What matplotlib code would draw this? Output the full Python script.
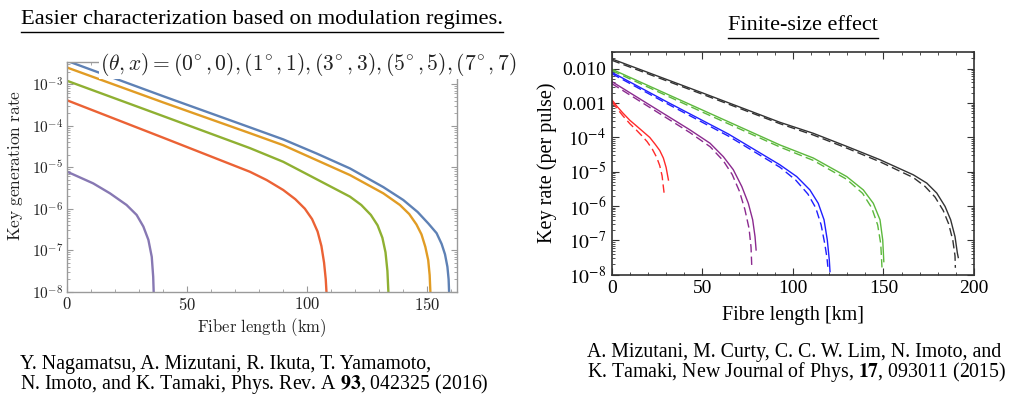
import numpy as np
import matplotlib
matplotlib.use("Agg")
import matplotlib.pyplot as plt
from matplotlib.ticker import FixedLocator, MultipleLocator, LogLocator, NullFormatter, FuncFormatter
from matplotlib.lines import Line2D

plt.rcParams["font.family"] = ["Liberation Serif", "DejaVu Serif"]
plt.rcParams["mathtext.fontset"] = "cm"

# ---- left panel data (Nagamatsu et al.), km and log10(rate) ----
left_blue_km = [0, 40, 76.1, 90, 103.9, 117.8, 131.7, 140, 146, 150.5, 153.9, 156, 157.4, 158.4, 158.9, 159.1]
left_blue_log = [-2.44, -3.29, -4.04, -4.33, -4.67, -5.03, -5.48, -5.79, -6.08, -6.36, -6.59, -6.85, -7.1, -7.4, -7.7, -8.0]
left_orange_km = [0, 40, 76.1, 90, 103.9, 117.8, 131.7, 138.6, 142.5, 145.5, 147.6, 149.2, 150.4, 151.0, 151.3]
left_orange_log = [-2.60, -3.44, -4.18, -4.47, -4.83, -5.19, -5.63, -5.91, -6.13, -6.38, -6.62, -6.92, -7.24, -7.6, -8.0]
left_green_km = [0, 40, 76.1, 90, 103.9, 117.8, 122.5, 126.5, 129.3, 131.3, 132.6, 133.4, 133.8]
left_green_log = [-2.92, -3.77, -4.54, -4.87, -5.29, -5.71, -5.91, -6.15, -6.4, -6.7, -7.05, -7.5, -8.0]
left_red_km = [0, 40, 76.1, 83.1, 90, 95, 99, 102, 104.3, 105.9, 107.0, 107.7, 108.0]
left_red_log = [-3.39, -4.29, -5.11, -5.31, -5.55, -5.77, -6.0, -6.25, -6.55, -6.9, -7.3, -7.7, -8.0]
left_purple_km = [0, 10.8, 17.8, 24.7, 28.9, 31.7, 33.8, 35.2, 35.8, 36.0]
left_purple_log = [-5.11, -5.39, -5.63, -5.91, -6.15, -6.43, -6.75, -7.16, -7.64, -8.0]
left_legend = r"$(\theta, x) = (0^{\!\circ}, 0), (1^{\!\circ}, 1), (3^{\!\circ}, 3), (5^{\!\circ}, 5), (7^{\!\circ}, 7)$"

# ---- right panel data (Mizutani et al.), solid and dashed ----
black_km = [0, 50, 92.9, 111.3, 129.7, 148.1, 157.3, 166.5, 173.9, 179.4, 184.0, 187.1, 189.5, 190.8, 191.3]
black_log = [-1.71, -2.70, -3.56, -3.88, -4.26, -4.65, -4.87, -5.09, -5.33, -5.62, -6.01, -6.40, -6.89, -7.37, -7.5]
black_d_km = [0, 50, 92.9, 111.3, 129.7, 148.1, 157.3, 166.5, 173, 178.5, 183, 186, 188.3, 189.5, 189.7]
black_d_log = [-1.75, -2.74, -3.60, -3.93, -4.31, -4.71, -4.94, -5.17, -5.43, -5.74, -6.13, -6.52, -7.0, -7.45, -7.8]
green_km = [0, 50, 92.9, 111.3, 129.7, 138.9, 144.4, 148.1, 149.6, 150.2]
green_log = [-2.01, -3.20, -4.22, -4.60, -5.14, -5.53, -5.92, -6.40, -6.99, -7.62]
green_d_km = [0, 50, 92.9, 111.3, 129.7, 138.5, 143.5, 146.8, 148.5, 149.2]
green_d_log = [-2.05, -3.26, -4.28, -4.67, -5.22, -5.63, -6.05, -6.55, -7.1, -7.8]
blue_km = [0, 30, 64.4, 92.9, 102.1, 109.4, 114.0, 117.2, 119.0, 120.1, 120.5]
blue_log = [-2.1, -2.95, -3.9, -4.80, -5.14, -5.53, -5.92, -6.40, -6.99, -7.57, -7.91]
blue_d_km = [0, 30, 64.4, 92.9, 101.5, 108.3, 112.6, 115.6, 117.6, 118.8, 119.3]
blue_d_log = [-2.14, -3.0, -3.96, -4.87, -5.24, -5.65, -6.05, -6.55, -7.1, -7.5, -7.77]
purple_km = [0, 43.2, 54.3, 61.6, 67.1, 71.8, 75.4, 77.8, 79.1, 79.7]
purple_log = [-2.37, -3.78, -4.17, -4.56, -4.94, -5.43, -5.92, -6.40, -6.89, -7.28]
purple_d_km = [0, 43.2, 54.3, 61.6, 66.5, 70.5, 73.5, 75.8, 76.9, 77.3]
purple_d_log = [-2.43, -3.86, -4.27, -4.68, -5.08, -5.57, -6.1, -6.65, -7.2, -7.76]
red_km = [0, 3, 6, 10, 14, 17.5, 21, 24, 26.5, 28.5, 30.0, 31.3]
red_log = [-2.9, -3.1, -3.28, -3.5, -3.68, -3.84, -4.0, -4.2, -4.38, -4.6, -4.87, -5.24]
red_d_km = [0, 3, 6, 10, 13.5, 16.6, 19.5, 22.5, 24.8, 26.5, 27.8, 28.9]
red_d_log = [-2.95, -3.16, -3.36, -3.6, -3.78, -3.95, -4.12, -4.35, -4.58, -4.82, -5.12, -5.62]
right_ytick_labels = ["0.010", "0.001", r"$10^{-4}$", r"$10^{-5}$", r"$10^{-6}$", r"$10^{-7}$", r"$10^{-8}$"]
right_yticks = [1e-2, 1e-3, 1e-4, 1e-5, 1e-6, 1e-7, 1e-8]

left_cite = ["Y. Nagamatsu, A. Mizutani, R. Ikuta, T. Yamamoto,",
             r"N. Imoto, and K. Tamaki, Phys. Rev. A $\mathbf{93}$, 042325 (2016)"]
right_cite = ["A. Mizutani, M. Curty, C. C. W. Lim, N. Imoto, and",
              r"K. Tamaki, New Journal of Phys, $\mathbf{17}$, 093011 (2015)"]

fig = plt.figure(figsize=(10.24, 4.13), dpi=100)

# ---------------- left panel ----------------
ax0 = fig.add_axes([0.0657, 0.2937, 0.3806, 0.5562])
left_series = [
    (left_blue_km, left_blue_log, "#5E81B5"),
    (left_orange_km, left_orange_log, "#E19C24"),
    (left_green_km, left_green_log, "#8FB032"),
    (left_red_km, left_red_log, "#EB6235"),
    (left_purple_km, left_purple_log, "#8778B3"),
]
for km, lg, c in left_series:
    ax0.plot(km, 10 ** np.array(lg), color=c, lw=1.7, solid_joinstyle="round")
ax0.set_yscale("log")
ax0.set_xlim(0, 162.4)
ax0.set_ylim(1e-8, 10 ** -2.465)
ax0.xaxis.set_major_locator(MultipleLocator(50))
ax0.xaxis.set_minor_locator(MultipleLocator(10))
ax0.yaxis.set_major_locator(LogLocator(base=10, numticks=20))
ax0.yaxis.set_minor_locator(LogLocator(base=10, subs=np.arange(2, 10), numticks=20))
ax0.yaxis.set_minor_formatter(NullFormatter())
ax0.yaxis.set_major_formatter(FuncFormatter(lambda v, p: r"$10^{%d}$" % round(np.log10(v))))
ax0.xaxis.set_major_formatter(FuncFormatter(lambda v, p: r"$%d$" % v))
for s in ax0.spines.values():
    s.set_color("#9a9a9a")
    s.set_linewidth(1.0)
ax0.tick_params(which="both", direction="in", top=True, right=True, color="#9a9a9a")
ax0.tick_params(which="major", length=4, labelsize=12, labelcolor="#222222")
ax0.tick_params(which="minor", length=2)
ax0.tick_params(axis="y", labelsize=11, pad=3)
ax0.set_xlabel(r"$\mathrm{Fiber\ length\ (km)}$", fontsize=12, color="#222222", labelpad=2)
ax0.set_ylabel(r"$\mathrm{Key\ generation\ rate}$", fontsize=12.5, color="#222222")
ax0.yaxis.set_label_coords(-0.108, 0.55)
fig.text(100 / 1024, 1 - 64 / 413, left_legend, fontsize=15.5, color="#222222",
         ha="left", va="center",
         bbox=dict(facecolor="white", edgecolor="none", pad=1.0))

# ---------------- right panel ----------------
ax1 = fig.add_axes([0.5974, 0.3349, 0.3538, 0.5400])
right_series = [
    (black_km, black_log, black_d_km, black_d_log, "#333333"),
    (green_km, green_log, green_d_km, green_d_log, "#5cb83c"),
    (blue_km, blue_log, blue_d_km, blue_d_log, "#1f1fff"),
    (purple_km, purple_log, purple_d_km, purple_d_log, "#8b2a8f"),
    (red_km, red_log, red_d_km, red_d_log, "#ff2a2a"),
]
for km, lg, kmd, lgd, c in right_series:
    ax1.plot(km, 10 ** np.array(lg), color=c, lw=1.0)
    ax1.plot(kmd, 10 ** np.array(lgd), color=c, lw=1.0, dashes=(6, 3))
ax1.set_yscale("log")
ax1.set_xlim(0, 200)
ax1.set_ylim(1e-8, 10 ** -1.5)
ax1.xaxis.set_major_locator(MultipleLocator(50))
ax1.xaxis.set_minor_locator(MultipleLocator(10))
ax1.yaxis.set_major_locator(FixedLocator(right_yticks))
ax1.yaxis.set_major_formatter(FuncFormatter(lambda v, p: right_ytick_labels[right_yticks.index(v)] if v in right_yticks else ""))
ax1.yaxis.set_minor_locator(LogLocator(base=10, subs=np.arange(2, 10), numticks=20))
ax1.yaxis.set_minor_formatter(NullFormatter())
for s in ax1.spines.values():
    s.set_color("#333333")
    s.set_linewidth(1.2)
ax1.tick_params(which="both", direction="in", top=True, right=True, color="#333333")
ax1.tick_params(which="major", length=5, labelsize=14, pad=4)
ax1.tick_params(which="minor", length=2.5)
for lbl in ax1.get_yticklabels() + ax1.get_xticklabels():
    lbl.set_math_fontfamily("stix")
ax1.set_xlabel("Fibre length [km]", fontsize=14.5, labelpad=6)
ax1.set_ylabel("Key rate (per pulse)", fontsize=14.5, labelpad=4)

# ---------------- titles with underline ----------------
t0 = fig.text(262 / 1024, 1 - 24 / 413, "Easier characterization based on modulation regimes.",
              fontsize=16.2, ha="center", va="baseline")
t1 = fig.text(803 / 1024, 1 - 30 / 413, "Finite-size effect", fontsize=16, ha="center", va="baseline")

# ---------------- citations ----------------
for i, line in enumerate(left_cite):
    tt = fig.text(20 / 1024, 1 - (364 + 19.5 * i) / 413, line, fontsize=14.3, ha="left", va="center")
    tt.set_math_fontfamily("stix")
for i, line in enumerate(right_cite):
    tt = fig.text(587 / 1024, 1 - (352 + 19.5 * i) / 413, line, fontsize=14.3, ha="left", va="center")
    tt.set_math_fontfamily("stix")

fig.canvas.draw()
r = fig.canvas.get_renderer()
for t in (t0, t1):
    bb = t.get_window_extent(renderer=r)
    y = (bb.y0 - 3) / fig.bbox.height
    fig.add_artist(Line2D([bb.x0 / fig.bbox.width, bb.x1 / fig.bbox.width], [y, y],
                          color="black", lw=1.0, transform=fig.transFigure))

fig.savefig("out.png", dpi=100)
